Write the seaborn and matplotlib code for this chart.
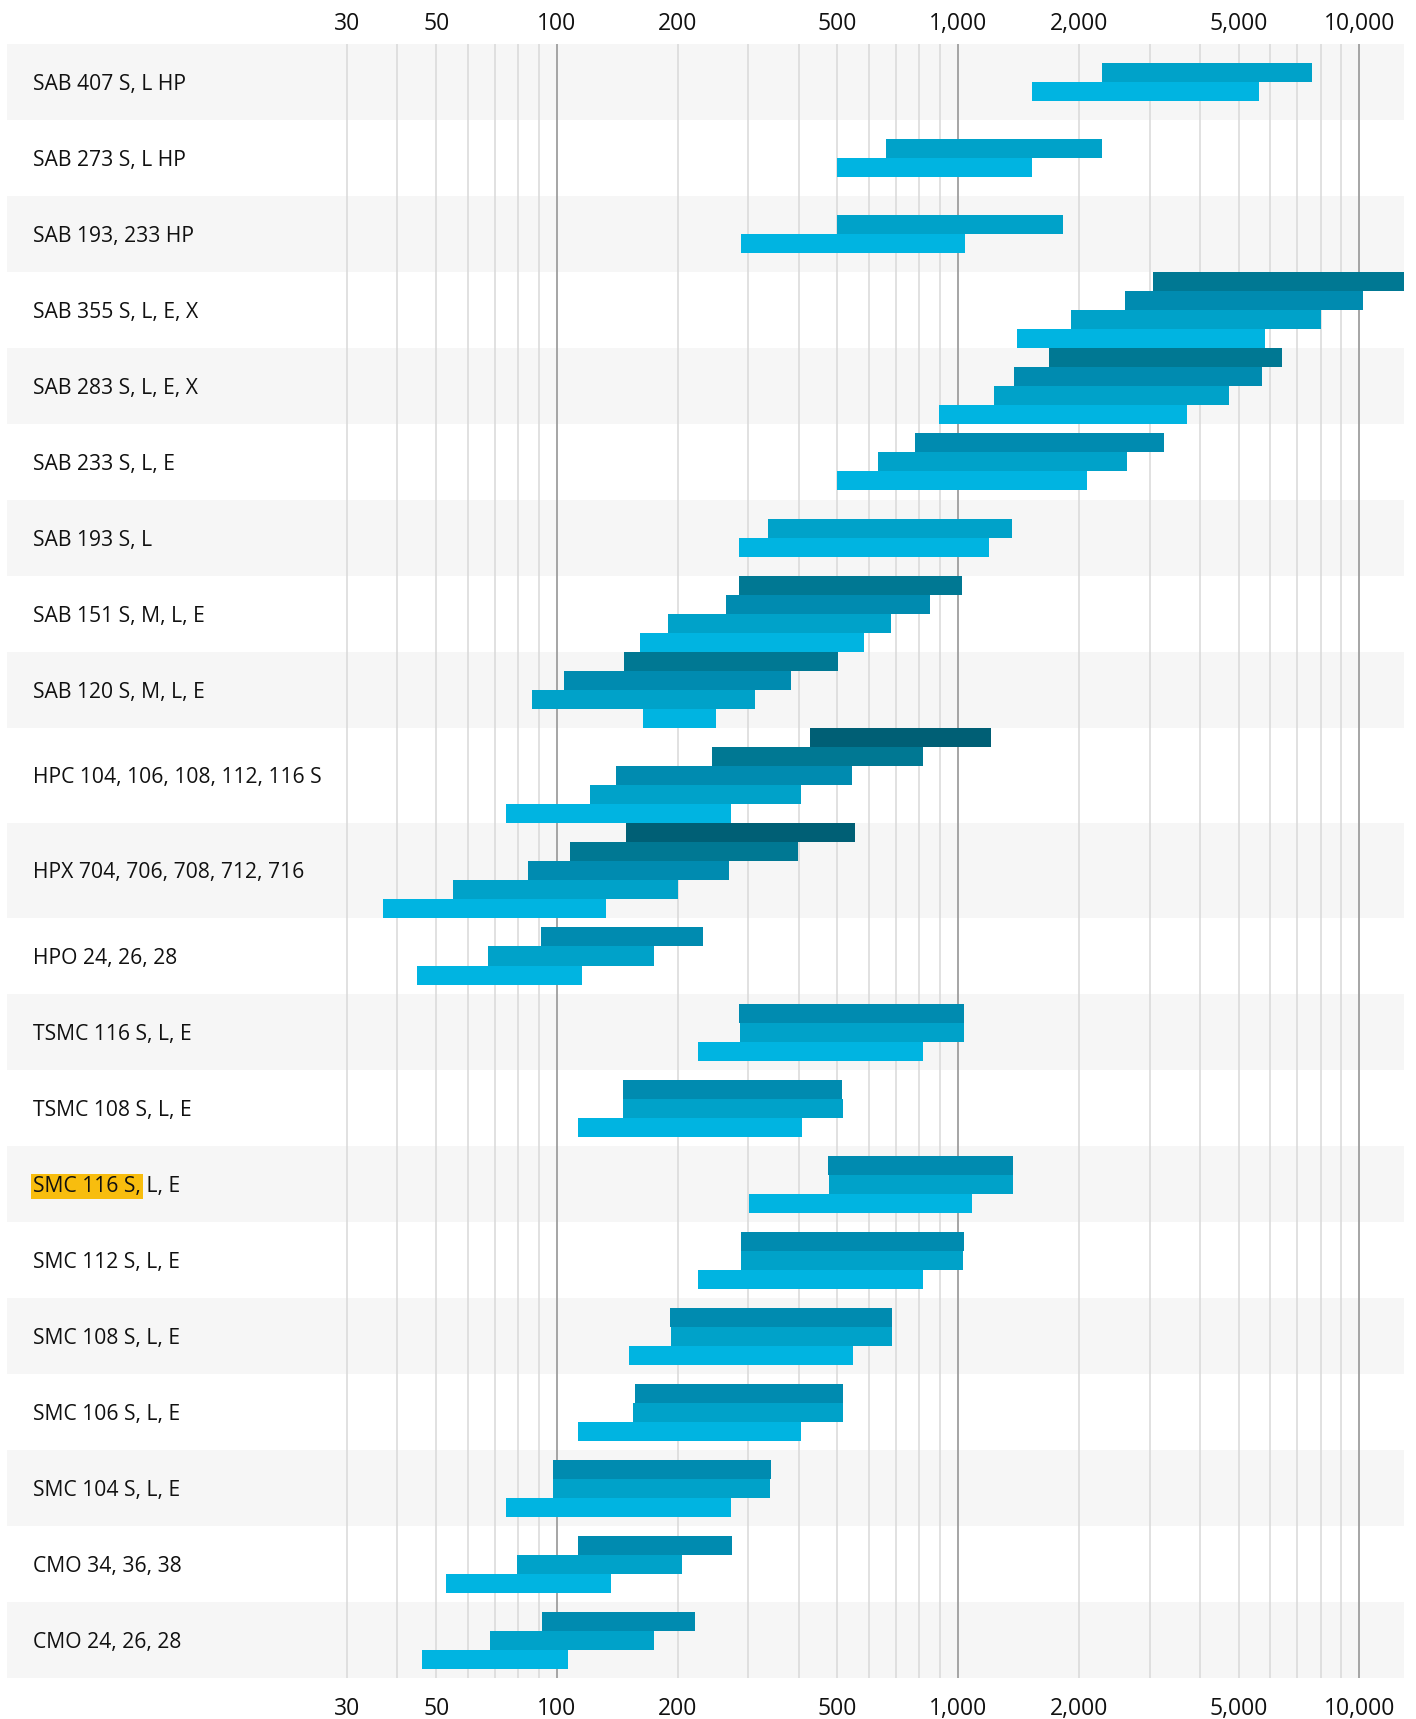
import numpy as np
import pandas as pd
import matplotlib
matplotlib.use("Agg")
import matplotlib.pyplot as plt
import seaborn as sns
from matplotlib.ticker import NullLocator
from matplotlib.transforms import blended_transform_factory, ScaledTranslation

# ---------------- data ----------------
categories = [
    "SAB 407 S, L HP",
    "SAB 273 S, L HP",
    "SAB 193, 233 HP",
    "SAB 355 S, L, E, X",
    "SAB 283 S, L, E, X",
    "SAB 233 S, L, E",
    "SAB 193 S, L",
    "SAB 151 S, M, L, E",
    "SAB 120 S, M, L, E",
    "HPC 104, 106, 108, 112, 116 S",
    "HPX 704, 706, 708, 712, 716",
    "HPO 24, 26, 28",
    "TSMC 116 S, L, E",
    "TSMC 108 S, L, E",
    "SMC 116 S, L, E",
    "SMC 112 S, L, E",
    "SMC 108 S, L, E",
    "SMC 106 S, L, E",
    "SMC 104 S, L, E",
    "CMO 34, 36, 38",
    "CMO 24, 26, 28",
]

# range starts per bar (top bar first)
range_lo = [
    [2280, 1524],
    [660, 500],
    [500, 288],
    [3063, 2600, 1910, 1405],
    [1686, 1377, 1230, 893],
    [782, 632, 500],
    [336, 284],
    [284, 264, 189, 161],
    [147, 104, 86.5, 164],
    [428, 244, 140, 121, 74.8],
    [148.6, 108, 84.9, 55, 36.8],
    [91, 67.3, 44.7],
    [284, 285, 225],
    [146, 146, 112.7],
    [473, 475, 300.6],
    [288, 288, 225],
    [191, 192, 151.5],
    [156, 155, 112.7],
    [97.5, 97.5, 74.8],
    [112.7, 79.7, 53],
    [91.5, 68.1, 46.1],
]

# range ends per bar (top bar first)
range_hi = [
    [7630, 5605],
    [2280, 1530],
    [1828, 1038],
    [13000, 10190, 8020, 5820],
    [6400, 5717, 4735, 3725],
    [3265, 2636, 2088],
    [1362, 1193],
    [1019, 849, 681, 582],
    [503, 384, 312, 249],
    [1208, 818, 543, 406, 272],
    [553, 399, 268.6, 200, 132.7],
    [231, 174, 115.5],
    [1032, 1032, 818],
    [513, 516, 409],
    [1369, 1369, 1085],
    [1032, 1028, 818],
    [685, 685, 547],
    [516, 516, 406],
    [341, 339, 272],
    [273.6, 205, 136],
    [221, 174, 106.5],
]

highlight_category = "SMC 116 S, L, E"
highlight_part = "SMC 116 S,"
highlight_rest = " L, E"

tick_values = [30, 50, 100, 200, 500, 1000, 2000, 5000, 10000]
tick_labels = ["30", "50", "100", "200", "500", "1,000", "2,000", "5,000", "10,000"]
grid_minor = [30, 40, 50, 60, 70, 80, 90, 200, 300, 400, 500, 600, 700, 800, 900,
              2000, 3000, 4000, 5000, 6000, 7000, 8000, 9000]
grid_major = [100, 1000, 10000]

# ---------------- style ----------------
palette = ["#00B4E1", "#00A2C9", "#008BB0", "#007893", "#005F75"]
band_color = "#F6F6F6"
text_color = "#111111"

sns.set_theme(style="white")
plt.rcParams["font.family"] = ["Open Sans", "DejaVu Sans"]

W, H = 1416, 1719
fig = plt.figure(figsize=(W / 100, H / 100), dpi=100)
ax_left, ax_right, ax_top, ax_bottom = 7, 1404, 44, 1678
ax = fig.add_axes([ax_left / W, 1 - ax_bottom / H, (ax_right - ax_left) / W, (ax_bottom - ax_top) / H])

# row geometry (in bar units)
row_h = [max(4, len(lo)) for lo in range_lo]
tops = np.concatenate([[0], np.cumsum(row_h)[:-1]])
total = float(sum(row_h))

records = []
for i, (cat, lo, hi) in enumerate(zip(categories, range_lo, range_hi)):
    n = len(lo)
    off = (row_h[i] - n) / 2
    for k, (a, b) in enumerate(zip(lo, hi)):
        records.append(dict(category=cat, y=tops[i] + off + k + 0.5, lo=a, hi=b,
                            color=palette[n - 1 - k]))
df = pd.DataFrame(records)

# alternating bands
for i in range(len(categories)):
    if i % 2 == 0:
        ax.axhspan(tops[i], tops[i] + row_h[i], color=band_color, lw=0, zorder=0)

ax.set_xscale("log")
ax.set_xlim(4.257, 12914)
ax.set_ylim(total, 0)

# vertical grid lines
for v in grid_minor:
    ax.axvline(v, color="#D8D8D8", lw=1.1, zorder=1)
for v in grid_major:
    ax.axvline(v, color="#9E9E9E", lw=1.3, zorder=1)

# floating bars
ax.barh(df["y"], df["hi"] - df["lo"], left=df["lo"], height=1.0,
        color=df["color"], linewidth=0, zorder=3)

# ticks
ax.set_yticks([])
ax.set_xticks(tick_values, tick_labels)
ax.xaxis.set_minor_locator(NullLocator())
ax.tick_params(axis="x", which="both", length=0, labelsize=16.5, pad=13.5,
               labelcolor=text_color, labelbottom=True, labeltop=False)
sec = ax.secondary_xaxis("top")
sec.set_xticks(tick_values, tick_labels)
sec.xaxis.set_minor_locator(NullLocator())
sec.tick_params(axis="x", which="both", length=0, labelsize=16.5, pad=6.0, labelcolor=text_color)
for s in sec.spines.values():
    s.set_visible(False)
for s in ax.spines.values():
    s.set_visible(False)

# category labels inside the plot area
trans = blended_transform_factory(ax.transAxes, ax.transData) + \
    ScaledTranslation(0, -2.2 / 100, fig.dpi_scale_trans)
lab_x = (33 - ax_left) / (ax_right - ax_left)
lab_size = 15.2
for i, cat in enumerate(categories):
    yc = tops[i] + row_h[i] / 2
    if cat == highlight_category:
        t1 = ax.text(lab_x, yc, highlight_part, transform=trans, va="center", ha="left",
                     fontsize=lab_size, color=text_color, zorder=5,
                     bbox=dict(boxstyle="square,pad=0.1", facecolor="#F8BD0E", edgecolor="none"))
        ax.annotate(highlight_rest, xy=(1, 0.5), xycoords=t1, va="center", ha="left",
                    fontsize=lab_size, color=text_color, zorder=5)
    else:
        ax.text(lab_x, yc, cat, transform=trans, va="center", ha="left",
                fontsize=lab_size, color=text_color, zorder=5)

fig.savefig("out.png", dpi=100)
